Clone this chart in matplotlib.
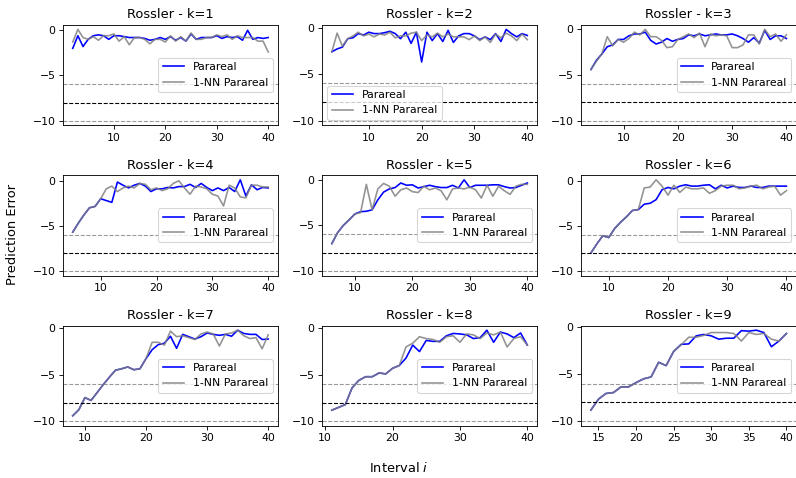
import numpy as np
import matplotlib
matplotlib.use("Agg")
import matplotlib.pyplot as plt

# first interval of each panel (all run up to interval 40)
k_values = [1, 2, 3, 4, 5, 6, 7, 8, 9]
x_starts = [2, 3, 4, 5, 6, 7, 8, 11, 14]

# prediction error, Parareal
parareal = [
    [-2.0, -0.6, -1.8, -1.0, -0.6, -0.5, -0.6, -1.0, -0.6, -0.6, -0.7, -0.8, -0.8, -0.8, -0.9, -1.1, -1.0, -0.8, -1.0, -0.7,
     -1.1, -0.8, -1.2, -0.4, -1.0, -0.8, -0.8, -0.8, -0.6, -0.9, -0.7, -0.8, -0.7, -1.1, 0.0, -1.0, -0.8, -0.9, -0.8],
    [-2.6, -2.3, -2.1, -1.2, -1.1, -0.65, -0.8, -0.5, -0.65, -0.65, -0.55, -0.4, -0.65, -1.2, -0.5, -1.7, -0.5, -3.7, -0.5,
     -1.4, -0.65, -1.5, -0.3, -1.6, -0.9, -0.65, -0.65, -0.9, -1.3, -1.0, -1.3, -0.65, -1.5, -0.2, -0.65, -1.0, -0.65, -0.85],
    [-4.4, -3.4, -2.7, -1.9, -1.7, -1.1, -1.1, -0.7, -0.5, -0.5, -0.3, -1.2, -1.6, -1.4, -1.0, -1.3, -1.1, -1.0, -0.6, -0.7,
     -0.5, -0.7, -0.6, -0.5, -0.6, -0.6, -0.5, -0.7, -1.0, -1.4, -0.9, -1.5, -0.1, -1.1, -0.7, -0.7, -1.0],
    [-5.7, -4.7, -3.8, -3.0, -2.85, -2.0, -2.2, -2.4, -0.15, -0.5, -0.8, -0.5, -0.3, -0.6, -1.2, -0.9, -0.9, -0.75, -0.8,
     -0.65, -0.65, -0.4, -0.75, -0.3, -0.75, -1.1, -0.8, -1.1, -0.75, -1.2, 0.1, -1.7, -0.45, -1.0, -0.75, -0.8],
    [-7.0, -5.8, -5.0, -4.4, -3.75, -3.5, -3.45, -3.3, -2.2, -1.35, -1.0, -0.85, -0.35, -0.6, -0.55, -0.9, -0.75, -0.6,
     -0.75, -0.85, -0.85, -0.6, -0.9, 0.0, -0.85, -0.6, -0.6, -0.6, -0.55, -0.55, -0.75, -0.9, -0.85, -0.6, -0.35],
    [-8.0, -7.0, -6.1, -6.3, -5.3, -4.6, -4.0, -3.3, -3.2, -2.6, -2.5, -2.1, -1.0, -0.75, -0.9, -0.6, -0.45, -0.6, -0.6,
     -0.5, -0.45, -0.9, -0.5, -0.8, -0.6, -0.75, -0.75, -0.6, -0.75, -0.75, -0.6, -0.6, -0.6, -0.6],
    [-9.4, -8.75, -7.45, -7.75, -6.9, -6.05, -5.25, -4.5, -4.35, -4.15, -4.45, -4.35, -3.25, -2.3, -1.75, -1.6, -0.85,
     -2.15, -0.65, -0.9, -1.15, -0.9, -0.5, -0.65, -0.75, -0.65, -0.85, -0.2, -0.55, -0.65, -0.65, -1.2, -1.15],
    [-8.8, -8.5, -8.2, -6.4, -5.6, -5.2, -5.2, -4.8, -4.9, -4.3, -4.0, -3.2, -1.8, -2.5, -1.3, -1.4, -1.4, -0.8, -0.55,
     -0.6, -0.7, -1.1, -1.0, -0.2, -1.5, -0.4, -0.6, -1.0, -0.5, -1.8],
    [-8.8, -7.65, -7.05, -6.95, -6.35, -6.35, -5.9, -5.5, -5.3, -3.75, -4.1, -2.6, -1.85, -1.8, -0.95, -0.8, -0.95, -1.3,
     -1.2, -1.2, -0.4, -0.45, -0.35, -0.6, -2.1, -1.5, -0.7],
]

# prediction error, 1-NN Parareal
nn_parareal = [
    [-1.3, 0.1, -0.8, -1.0, -0.7, -1.1, -0.6, -0.6, -0.4, -1.2, -0.7, -1.6, -0.8, -0.8, -1.0, -1.5, -1.0, -1.0, -1.3, -0.6,
     -1.2, -0.7, -1.2, -0.3, -1.0, -1.0, -0.8, -0.8, -0.5, -0.7, -0.5, -1.0, -0.6, -0.8, -0.8, -0.8, -1.2, -1.2, -2.4],
    [-2.6, -0.6, -2.0, -1.2, -0.9, -0.5, -0.9, -0.7, -1.0, -0.7, -0.8, -0.5, -1.1, -0.9, -0.9, -0.6, -0.5, -1.4, -0.8,
     -1.0, -0.6, -1.0, -0.7, -1.0, -1.0, -1.0, -1.3, -0.9, -1.4, -1.0, -1.6, -0.7, -1.1, -0.6, -0.9, -1.4, -0.7, -1.3],
    [-4.4, -3.5, -2.7, -0.8, -1.8, -1.1, -1.4, -1.0, -0.3, -0.6, 0.0, -0.8, -0.8, -1.2, -2.0, -1.9, -1.1, -0.8, -0.5, -0.9,
     -0.4, -1.9, -0.5, -0.7, -0.6, -0.7, -2.0, -2.0, -1.7, -0.6, -0.6, -1.6, 0.0, -0.8, -0.5, -1.3, -0.6],
    [-5.7, -4.7, -3.8, -3.0, -2.85, -2.0, -0.9, -0.6, -1.2, -0.8, -0.6, -0.8, -0.3, -0.4, -1.0, -0.8, -1.1, -0.9, -0.3,
     0.0, -0.8, -1.5, -0.6, -0.7, -0.9, -1.5, -1.7, -2.8, -0.5, -0.8, -1.8, -1.9, -0.5, -0.5, -0.7, -0.7],
    [-7.0, -5.8, -5.0, -4.4, -3.75, -3.6, -0.5, -3.3, -1.0, -0.4, -0.7, -1.8, -1.1, -0.9, -1.3, -1.4, -0.7, -1.1, -0.9,
     -1.2, -2.2, -1.0, -0.9, -1.0, -0.8, -1.1, -2.0, -0.6, -1.8, -0.7, -1.2, -1.6, -0.7, -0.5, -0.5],
    [-8.0, -7.0, -6.1, -6.3, -5.3, -4.6, -4.0, -3.3, -3.2, -0.8, -0.7, 0.1, -0.6, -1.6, -0.5, -1.3, -0.7, -0.9, -0.9,
     -0.8, -1.4, -1.1, -0.6, -0.5, -0.5, -0.9, -0.8, -0.6, -0.5, -0.9, -0.7, -0.6, -1.6, -1.1],
    [-9.4, -8.75, -7.45, -7.75, -6.9, -6.05, -5.25, -4.5, -4.35, -4.15, -4.45, -4.35, -3.25, -1.5, -1.5, -1.8, -0.3,
     -0.9, -0.8, -1.0, -1.2, -0.6, -0.4, -0.6, -1.9, -0.6, -0.5, -0.2, -0.8, -1.1, -1.0, -2.2, -0.7],
    [-8.8, -8.5, -8.2, -6.4, -5.6, -5.2, -5.2, -4.8, -4.9, -4.3, -4.0, -2.0, -1.6, -0.9, -1.1, -1.2, -1.5, -0.9, -0.8,
     -1.5, -0.6, -0.7, -1.1, -0.5, -0.7, -0.4, -2.0, -1.1, -0.9, -1.8],
    [-8.8, -7.65, -7.05, -6.95, -6.35, -6.35, -5.9, -5.5, -5.3, -3.75, -4.1, -2.6, -1.9, -1.1, -1.1, -0.9, -0.6, -0.6,
     -0.6, -0.7, -1.5, -0.6, -0.8, -0.7, -1.3, -1.5, -0.7],
]

# reference error levels
ref_levels = [-6, -8, -10]
ref_colors = ['grey', 'black', 'grey']

fig, axes = plt.subplots(3, 3, figsize=(797 / 78, 478 / 78), dpi=78)
fig.subplots_adjust(left=0.079, right=0.999, top=0.948, bottom=0.109, wspace=0.205, hspace=0.5)

for i, ax in enumerate(axes.flat):
    x = np.arange(x_starts[i], 41)
    ax.plot(x, parareal[i], color='blue', label='Parareal')
    ax.plot(x, nn_parareal[i], color='grey', alpha=0.85, label='1-NN Parareal')
    for lvl, c in zip(ref_levels, ref_colors):
        ax.axhline(lvl, color=c, linestyle='--', linewidth=1, alpha=0.8 if c == 'grey' else 1)
    ax.set_title(f'Rossler - k={k_values[i]}')
    ax.legend(loc='lower left' if k_values[i] == 2 else 'center right')

fig.text(0.5, 0.02, 'Interval $i$', ha='center', va='center', fontsize=12)
fig.text(0.016, 0.51, 'Prediction Error', ha='center', va='center', rotation=90, fontsize=12)

fig.savefig('out.png', dpi=78)
